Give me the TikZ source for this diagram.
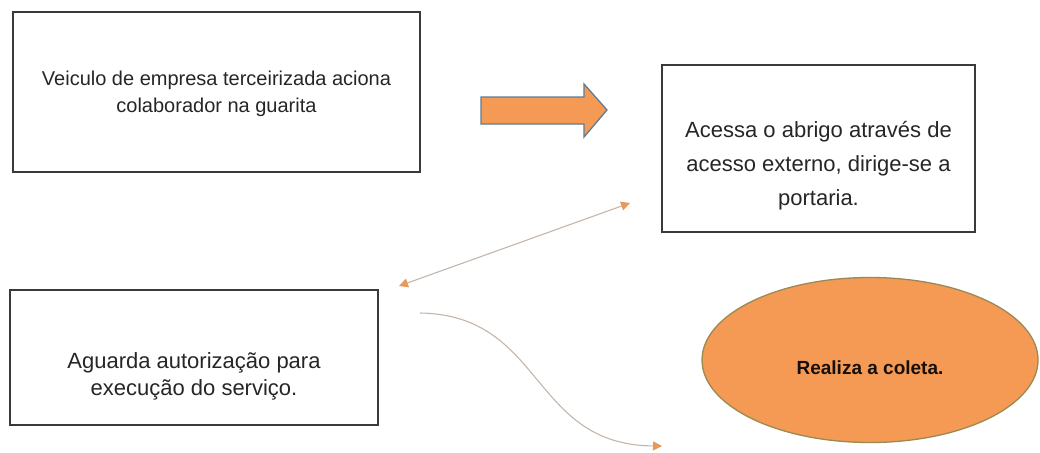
\documentclass[tikz,border=0pt]{standalone}
\usepackage{fontspec}
\setmainfont{Liberation Sans}
\usetikzlibrary{shapes.geometric,arrows.meta}
\definecolor{boxline}{HTML}{3A3A3A}
\definecolor{txt}{HTML}{262626}
\definecolor{orangefill}{HTML}{F59A55}
\definecolor{arrowedge}{HTML}{5F7C96}
\definecolor{ovaledge}{HTML}{9A8A52}
\definecolor{linktan}{HTML}{C4B6AA}
\definecolor{tiporange}{HTML}{E59A5C}
\tikzset{
  stepbox/.style={draw=boxline, line width=1.4pt, fill=white, inner sep=0pt},
  steptext/.style={text=txt, align=center, inner sep=0pt},
  oval/.style={ellipse, draw=ovaledge, line width=1.3pt, fill=orangefill,
    inner sep=0pt},
  link/.style={draw=linktan, line width=1.1pt, -{Triangle[length=9pt,width=9pt,color=tiporange,fill=tiporange]}},
  twolink/.style={draw=linktan, line width=1.1pt,
    {Triangle[length=9pt,width=9pt,color=tiporange,fill=tiporange]}-{Triangle[length=9pt,width=9pt,color=tiporange,fill=tiporange]}}
}
\begin{document}
\begin{tikzpicture}[x=1pt,y=-1pt]
  \useasboundingbox[fill=white] (0,0) rectangle (1040,452);

  % process boxes, each with its text set slightly below centre
  \node[stepbox, minimum width=407pt, minimum height=160pt] (veiculo) at (216.5,92) {};
  \node[steptext, font=\fontsize{20}{27}\selectfont] (veiculo-t)
    at ([yshift=-2pt]veiculo.center)
    {Veiculo de empresa terceirizada aciona\\colaborador na guarita};

  \node[stepbox, minimum width=313pt, minimum height=167pt] (acessa) at (818.5,148.5) {};
  \node[steptext, font=\fontsize{22}{34}\selectfont] (acessa-t)
    at ([yshift=-17pt]acessa.center)
    {Acessa o abrigo através de\\acesso externo, dirige-se a\\portaria.};

  \node[stepbox, minimum width=368pt, minimum height=135pt] (aguarda) at (194,357.5) {};
  \node[steptext, font=\fontsize{22}{27}\selectfont] (aguarda-t)
    at ([yshift=-19pt]aguarda.center)
    {Aguarda autorização para\\execução do serviço.};

  % final step
  \node[oval, minimum width=336pt, minimum height=165pt] (coleta) at (870,360) {};
  \node[steptext, font=\bfseries\fontsize{19}{23}\selectfont, text=black!88!brown]
    (coleta-t) at ([yshift=-8pt]coleta.center) {Realiza a coleta.};

  % block arrow between the first two steps
  \draw[fill=orangefill, draw=arrowedge, line width=1.3pt]
    (481,97) -- (584,97) -- (584,84) -- (607,110) -- (584,137)
    -- (584,124) -- (481,124) -- cycle;

  % connectors
  \coordinate (pA) at (399,286);
  \coordinate (pB) at (630,203);
  \draw[twolink] (pA) -- (pB);
  \coordinate (qA) at (420,313);
  \coordinate (qB) at (662,446);
  \draw[link] (qA) .. controls (545,315) and (530,445) .. (qB);
\end{tikzpicture}
\end{document}
